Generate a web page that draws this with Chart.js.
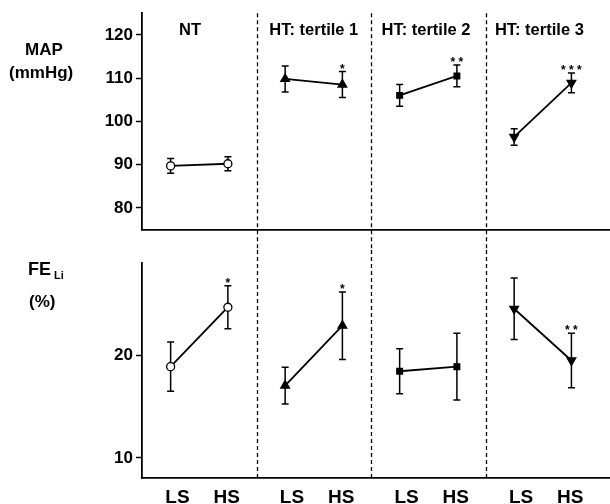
<!DOCTYPE html>
<html>
<head>
<meta charset="utf-8">
<script src="https://cdn.jsdelivr.net/npm/chart.js@4.4.1/dist/chart.umd.min.js"></script>
<style>
    body { margin: 0; background: #fff; font-family: "Liberation Sans", Arial, sans-serif; }
    #page { position: relative; width: 610px; height: 504px; overflow: hidden; }
    #topCanvas { position: absolute; left: 0; top: 0; }
    #bottomCanvas { position: absolute; left: 0; top: 250px; }
    .side { position: absolute; font-weight: bold; color: #000; white-space: nowrap; line-height: 1; }
</style>
</head>
<body>
<div id="page">
    <canvas id="topCanvas" width="610" height="250"></canvas>
    <canvas id="bottomCanvas" width="610" height="254"></canvas>
    <div class="side" style="left:25px; top:41px; font-size:17px;">MAP</div>
    <div class="side" style="left:9px; top:64px; font-size:17px;">(mmHg)</div>
    <div class="side" style="left:28px; top:260px; font-size:18px;">FE<span style="font-size:11px; position:relative; top:4px; margin-left:3px;">Li</span></div>
    <div class="side" style="left:29px; top:293px; font-size:17px;">(%)</div>
</div>
<script>
const groups = ['NT', 'HT: tertile 1', 'HT: tertile 2', 'HT: tertile 3'];
const conditions = ['LS', 'HS'];

// MAP (mmHg), mean and error per group, LS then HS
const mapMean = [[89.7, 90.2], [109.8, 108.5], [106.0, 110.5], [96.4, 108.9]];
const mapErr = [[1.7, 1.6], [3.0, 3.0], [2.5, 2.5], [1.9, 2.3]];
const mapStars = [['', ''], ['', '*'], ['', '* *'], ['', '* * *']];
const mapTicks = [80, 90, 100, 110, 120];

// FE Li (%)
const feMean = [[18.9, 24.7], [17.05, 22.9], [18.45, 18.9], [24.55, 19.5]];
const feErr = [[2.4, 2.1], [1.8, 3.3], [2.2, 3.25], [3.0, 2.65]];
const feStars = [['', '*'], ['', '*'], ['', ''], ['', '* *']];
const feTicks = [10, 20];

// where things sit inside each group panel (panel = 1 x unit)
const pointOffset = [0.25, 0.75];
const labelOffset = [0.31, 0.74];
const titleX = [0.42, 1.5, 2.48, 3.47];
const xMax = 4.087;

const markers = [
    { style: 'circle', fill: '#fff', radius: 4, rotation: 0 },
    { style: 'triangle', fill: '#000', radius: 5, rotation: 0 },
    { style: 'rect', fill: '#000', radius: 4, rotation: 0 },
    { style: 'triangle', fill: '#000', radius: 5, rotation: 180 }
];

function buildDatasets(means, errs, stars) {
    return groups.map(function (g, gi) {
        const m = markers[gi];
        return {
            label: g,
            data: means[gi].map(function (v, ci) {
                return { x: gi + pointOffset[ci], y: v };
            }),
            errors: errs[gi],
            stars: stars[gi],
            borderColor: '#000',
            borderWidth: 1.8,
            pointStyle: m.style,
            pointRadius: m.radius,
            pointRotation: m.rotation,
            pointBackgroundColor: m.fill,
            pointBorderColor: '#000',
            pointBorderWidth: 1.3,
            fill: false,
            tension: 0
        };
    });
}

// error bars, group dividers, stars and titles
const decorPlugin = {
    id: 'decor',
    beforeDatasetsDraw(chart, args, opts) {
        const ctx = chart.ctx;
        const xs = chart.scales.x;
        const ys = chart.scales.y;
        const area = chart.chartArea;
        ctx.save();
        // dashed dividers
        ctx.strokeStyle = '#000';
        ctx.lineWidth = 1.3;
        ctx.setLineDash([4, 3]);
        for (let i = 1; i < groups.length; i++) {
            const px = Math.round(xs.getPixelForValue(i)) + 0.5;
            ctx.beginPath();
            ctx.moveTo(px, opts.top ? area.top : 0);
            ctx.lineTo(px, opts.top ? chart.height : area.bottom);
            ctx.stroke();
        }
        ctx.setLineDash([]);
        // error bars
        ctx.lineWidth = 1.5;
        chart.data.datasets.forEach(function (ds, di) {
            const meta = chart.getDatasetMeta(di);
            meta.data.forEach(function (pt, i) {
                const v = ds.data[i].y;
                const e = ds.errors[i];
                const yTop = ys.getPixelForValue(v + e);
                const yBot = ys.getPixelForValue(v - e);
                ctx.beginPath();
                ctx.moveTo(pt.x, yTop);
                ctx.lineTo(pt.x, yBot);
                ctx.moveTo(pt.x - 3.5, yTop);
                ctx.lineTo(pt.x + 3.5, yTop);
                ctx.moveTo(pt.x - 3.5, yBot);
                ctx.lineTo(pt.x + 3.5, yBot);
                ctx.stroke();
            });
        });
        ctx.restore();
    },
    afterDatasetsDraw(chart, args, opts) {
        const ctx = chart.ctx;
        const xs = chart.scales.x;
        const ys = chart.scales.y;
        ctx.save();
        ctx.fillStyle = '#000';
        ctx.textAlign = 'center';
        // significance stars
        ctx.font = 'bold 12px "Liberation Sans", Arial, sans-serif';
        ctx.textBaseline = 'alphabetic';
        chart.data.datasets.forEach(function (ds, di) {
            const meta = chart.getDatasetMeta(di);
            meta.data.forEach(function (pt, i) {
                if (!ds.stars[i]) return;
                const yTop = ys.getPixelForValue(ds.data[i].y + ds.errors[i]);
                ctx.fillText(ds.stars[i], pt.x, yTop + 1);
            });
        });
        // panel titles
        if (opts.top) {
            ctx.font = 'bold 16.5px "Liberation Sans", Arial, sans-serif';
            ctx.textBaseline = 'middle';
            groups.forEach(function (g, gi) {
                ctx.fillText(g, xs.getPixelForValue(titleX[gi]), 30);
            });
        }
        ctx.restore();
    }
};

function makeChart(canvasId, means, errs, stars, yMin, yMax, yTicks, isTop, xHeight) {
    const ctx = document.getElementById(canvasId).getContext('2d');
    return new Chart(ctx, {
        type: 'line',
        data: { datasets: buildDatasets(means, errs, stars) },
        options: {
            responsive: false,
            devicePixelRatio: 1,
            animation: false,
            layout: { autoPadding: false, padding: { top: 10, left: 82, right: 0, bottom: 0 } },
            plugins: {
                legend: { display: false },
                tooltip: { enabled: false },
                decor: { top: isTop }
            },
            scales: {
                x: {
                    type: 'linear',
                    min: 0,
                    max: xMax,
                    afterBuildTicks: function (scale) {
                        const t = [];
                        groups.forEach(function (g, gi) {
                            labelOffset.forEach(function (o) { t.push({ value: gi + o }); });
                        });
                        scale.ticks = t;
                    },
                    afterFit: function (scale) { scale.height = xHeight; },
                    grid: { display: false, drawTicks: false },
                    border: { display: true, color: '#000', width: 1.8 },
                    ticks: {
                        display: !isTop,
                        autoSkip: false,
                        maxRotation: 0,
                        padding: 8,
                        color: '#000',
                        font: { family: '"Liberation Sans", Arial, sans-serif', size: 19, weight: 'bold' },
                        callback: function (value, index) { return conditions[index % 2]; }
                    }
                },
                y: {
                    min: yMin,
                    max: yMax,
                    afterBuildTicks: function (scale) {
                        scale.ticks = yTicks.map(function (v) { return { value: v }; });
                    },
                    afterFit: function (scale) { scale.width = 60; },
                    grid: { drawOnChartArea: false, drawTicks: true, tickLength: 6, color: '#000', tickWidth: 1.5 },
                    border: { display: true, color: '#000', width: 1.8 },
                    ticks: {
                        padding: 3,
                        color: '#000',
                        font: { family: '"Liberation Sans", Arial, sans-serif', size: 17, weight: 'bold' }
                    }
                }
            }
        },
        plugins: [decorPlugin]
    });
}

makeChart('topCanvas', mapMean, mapErr, mapStars, 75, 125, mapTicks, true, 20.5);
makeChart('bottomCanvas', feMean, feErr, feStars, 8, 29, feTicks, false, 25.7);
</script>
</body>
</html>
